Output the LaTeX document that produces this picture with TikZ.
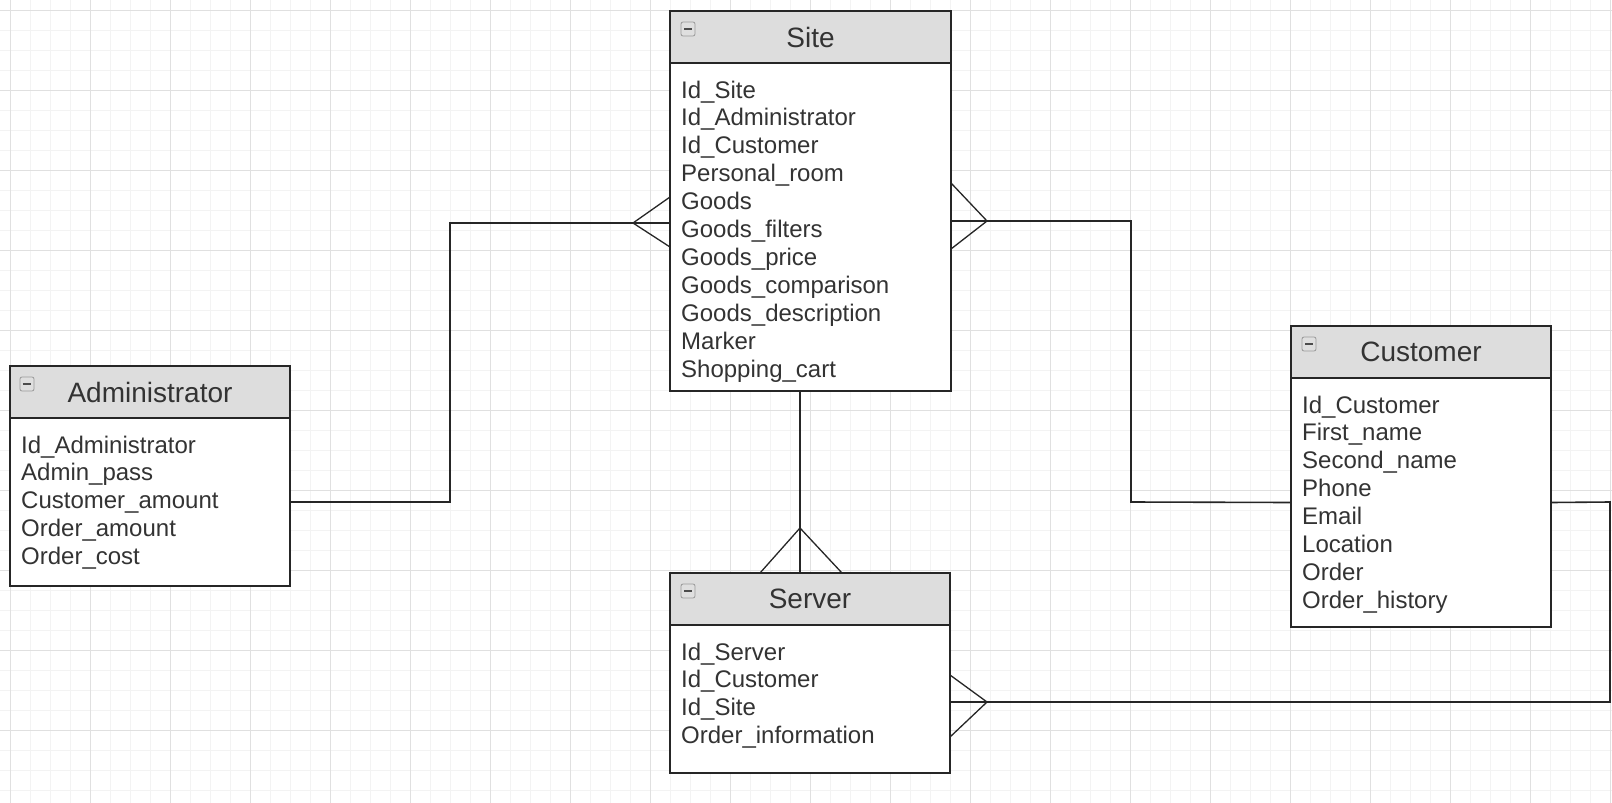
\documentclass[tikz,border=0pt]{standalone}
\usepackage{fontspec}
\setmainfont{Liberation Sans}
\usepackage{tikz}
\usetikzlibrary{positioning}

\definecolor{headgray}{HTML}{DDDDDD}
\definecolor{gridminor}{HTML}{F3F3F3}
\definecolor{gridmajor}{HTML}{E0E0E0}
\definecolor{inkgray}{HTML}{262626}

\begin{document}
\begin{tikzpicture}[x=1pt, y=-1pt, head/.style={
		% The shape:
		rectangle, anchor=north west,
		% The size:
		minimum height=52pt, inner sep=0pt, outer sep=0pt,
		% The border
		line width=1.6pt, draw=inkgray,
		% The filling
		fill=headgray, text=black!80, font=\fontsize{28}{32}\selectfont},
	body/.style={rectangle, anchor=north, inner sep=0pt, outer sep=0pt,
		line width=1.6pt, draw=inkgray, fill=white},
	fields/.style={anchor=base west, inner sep=0pt, text width=250pt, align=left,
		text=black!80, font=\fontsize{24}{27.9}\selectfont},
	icon/.style={rectangle, rounded corners=2pt, minimum size=14pt, inner sep=0pt,
		line width=0.8pt, draw=gray!80, fill=gray!25},
	link/.style={line width=1.6pt, draw=inkgray},
	crow/.style={line width=1.3pt, draw=inkgray}]
    % background and grid
    \useasboundingbox (0,0) rectangle (1612,803);
    \fill[white] (0,0) rectangle (1612,803);
    \foreach \g in {10,30,...,1610} \draw[gridminor, line width=0.8pt] (\g,0) -- (\g,803);
    \foreach \g in {10,30,...,790} \draw[gridminor, line width=0.8pt] (0,\g) -- (1612,\g);
    \foreach \g in {10,90,...,1610} \draw[gridmajor, line width=1pt] (\g,0) -- (\g,803);
    \foreach \g in {10,90,...,730} \draw[gridmajor, line width=1pt] (0,\g) -- (1612,\g);

    % Site
    \node [head, minimum width=281pt] (site) at (670,11) {Site};
    \node [body, minimum width=281pt, minimum height=328pt] (site-body) at (site.south) {};
    \node [icon] (site-icon) at ([shift={(18,18)}]site.north west) {\textcolor{black!70}{\rule{8pt}{2pt}}};
    \node [fields] (site-fields) at ([shift={(11,35)}]site-body.north west) {Id\_Site\\Id\_Administrator\\Id\_Customer\\Personal\_room\\Goods\\Goods\_filters\\Goods\_price\\Goods\_comparison\\Goods\_description\\Marker\\Shopping\_cart};

    % Administrator
    \node [head, minimum width=280pt] (admin) at (10,366) {Administrator};
    \node [body, minimum width=280pt, minimum height=168pt] (admin-body) at (admin.south) {};
    \node [icon] (admin-icon) at ([shift={(17,18)}]admin.north west) {\textcolor{black!70}{\rule{8pt}{2pt}}};
    \node [fields] (admin-fields) at ([shift={(11,35)}]admin-body.north west) {Id\_Administrator\\Admin\_pass\\Customer\_amount\\Order\_amount\\Order\_cost};

    % Customer
    \node [head, minimum width=260pt] (customer) at (1291,326) {Customer};
    \node [body, minimum width=260pt, minimum height=249pt] (customer-body) at (customer.south) {};
    \node [icon] (customer-icon) at ([shift={(18,18)}]customer.north west) {\textcolor{black!70}{\rule{8pt}{2pt}}};
    \node [fields] (customer-fields) at ([shift={(11,35)}]customer-body.north west) {Id\_Customer\\First\_name\\Second\_name\\Phone\\Email\\Location\\Order\\Order\_history};

    % Server
    \node [head, minimum width=280pt] (server) at (670,573) {Server};
    \node [body, minimum width=280pt, minimum height=148pt] (server-body) at (server.south) {};
    \node [icon] (server-icon) at ([shift={(18,18)}]server.north west) {\textcolor{black!70}{\rule{8pt}{2pt}}};
    \node [fields] (server-fields) at ([shift={(11,35)}]server-body.north west) {Id\_Server\\Id\_Customer\\Id\_Site\\Order\_information};

    % relations
    \draw [link] (admin-body.east) -| (450,223) -- (site-body.west |- 0,223);
    \draw [crow] (site-body.west |- 0,197) -- ++(-37,26) -- ++(37,24);
    \draw [link] (site-body.east |- 0,221) -| (1131,502) -- (customer-body.west);
    \draw [crow] (site-body.east |- 0,183) -- ++(36,38) -- ++(-36,28);
    \draw [link] (site-body.south -| 800,0) -- (server.north -| 800,0);
    \draw [crow] (server.north -| 760,0) -- ++(40,-45) -- ++(42,45);
    \draw [link] (server-body.east |- 0,702) -| (1610,502) -- (customer-body.east);
    \draw [crow] (server-body.east |- 0,675) -- ++(37,27) -- ++(-37,35);
\end{tikzpicture}
\end{document}
